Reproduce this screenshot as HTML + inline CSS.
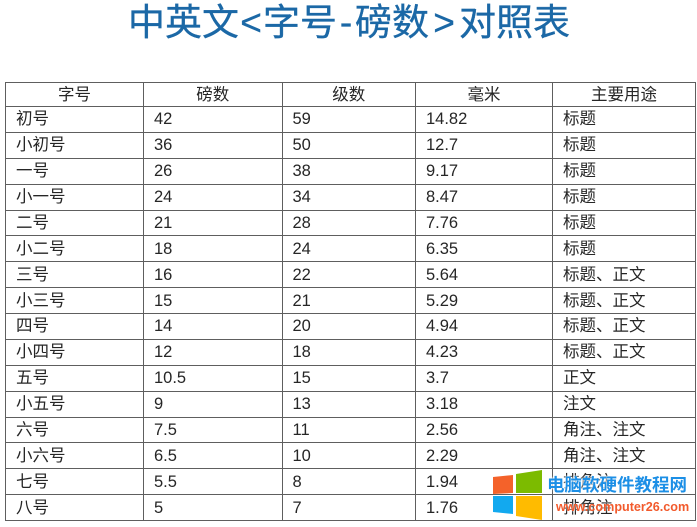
<!DOCTYPE html>
<html><head><meta charset="utf-8"><style>
html,body{margin:0;padding:0;background:#fff;}
body{width:697px;height:527px;position:relative;overflow:hidden;font-family:"Liberation Sans","Noto Sans CJK SC",sans-serif;}
.title{position:absolute;left:0;top:4px;height:37px;font-family:"Liberation Sans","Noto Sans CJK SC",sans-serif;font-size:37px;line-height:37px;color:#1b68a6;-webkit-text-stroke:0.35px #1b68a6;}
.title span{position:absolute;top:0;text-align:center;white-space:nowrap;}
table{position:absolute;left:5px;top:82px;border-collapse:collapse;table-layout:fixed;width:690px;}
td{border:1.5px solid #5e5e5e;padding:0 0 0 10px;font-size:16.5px;color:#262626;white-space:nowrap;overflow:hidden;line-height:20px;}
tr{height:25.875px;}
tr.h{height:24px;}
tr.h td{text-align:center;padding:0;}
.wm{position:absolute;left:0;top:0;}
.wt{position:absolute;left:547px;top:476px;font-family:"Noto Sans CJK SC",sans-serif;font-size:17.5px;line-height:17.5px;font-weight:bold;color:#1c8fe6;white-space:nowrap;text-shadow:0 0 2px #fff,0 0 2px #fff;}
.wu{position:absolute;left:556px;top:501px;font-family:"Liberation Sans",sans-serif;font-size:12.6px;line-height:12.6px;font-weight:bold;color:#f25a2c;white-space:nowrap;text-shadow:0 0 2px #fff;}
</style></head><body>
<div class="title">
<span style="left:128px;width:37px">中</span>
<span style="left:165px;width:37px">英</span>
<span style="left:202px;width:37px">文</span>
<span style="left:239px;width:24px">&lt;</span>
<span style="left:263px;width:37px">字</span>
<span style="left:300px;width:37px">号</span>
<span style="left:337px;width:18px">-</span>
<span style="left:355px;width:37px">磅</span>
<span style="left:392px;width:37px">数</span>
<span style="left:430px;width:28px">&gt;</span>
<span style="left:459px;width:37px">对</span>
<span style="left:496px;width:37px">照</span>
<span style="left:533px;width:37px">表</span>
</div>
<table>
<colgroup><col style="width:138px"><col style="width:138.5px"><col style="width:133.5px"><col style="width:137px"><col style="width:143px"></colgroup>
<tr class="h"><td>字号</td><td>磅数</td><td>级数</td><td>毫米</td><td>主要用途</td></tr>
<tr><td>初号</td><td>42</td><td>59</td><td>14.82</td><td>标题</td></tr>
<tr><td>小初号</td><td>36</td><td>50</td><td>12.7</td><td>标题</td></tr>
<tr><td>一号</td><td>26</td><td>38</td><td>9.17</td><td>标题</td></tr>
<tr><td>小一号</td><td>24</td><td>34</td><td>8.47</td><td>标题</td></tr>
<tr><td>二号</td><td>21</td><td>28</td><td>7.76</td><td>标题</td></tr>
<tr><td>小二号</td><td>18</td><td>24</td><td>6.35</td><td>标题</td></tr>
<tr><td>三号</td><td>16</td><td>22</td><td>5.64</td><td>标题、正文</td></tr>
<tr><td>小三号</td><td>15</td><td>21</td><td>5.29</td><td>标题、正文</td></tr>
<tr><td>四号</td><td>14</td><td>20</td><td>4.94</td><td>标题、正文</td></tr>
<tr><td>小四号</td><td>12</td><td>18</td><td>4.23</td><td>标题、正文</td></tr>
<tr><td>五号</td><td>10.5</td><td>15</td><td>3.7</td><td>正文</td></tr>
<tr><td>小五号</td><td>9</td><td>13</td><td>3.18</td><td>注文</td></tr>
<tr><td>六号</td><td>7.5</td><td>11</td><td>2.56</td><td>角注、注文</td></tr>
<tr><td>小六号</td><td>6.5</td><td>10</td><td>2.29</td><td>角注、注文</td></tr>
<tr><td>七号</td><td>5.5</td><td>8</td><td>1.94</td><td>排角注</td></tr>
<tr><td>八号</td><td>5</td><td>7</td><td>1.76</td><td>排角注</td></tr>
</table>
<svg class="wm" width="697" height="527" viewBox="0 0 697 527">
<polygon points="493,477 513,475 513,493 493,494" fill="#f4622a"/>
<polygon points="516,474 542,470 542,493 516,493" fill="#7cbb00"/>
<polygon points="493,496 513,496 513,514 493,512" fill="#12a9ef"/>
<polygon points="516,496 542,496 542,520 516,516" fill="#ffbb00"/>
</svg>
<div class="wt">电脑软硬件教程网</div>
<div class="wu">www.computer26.com</div>
</body></html>
